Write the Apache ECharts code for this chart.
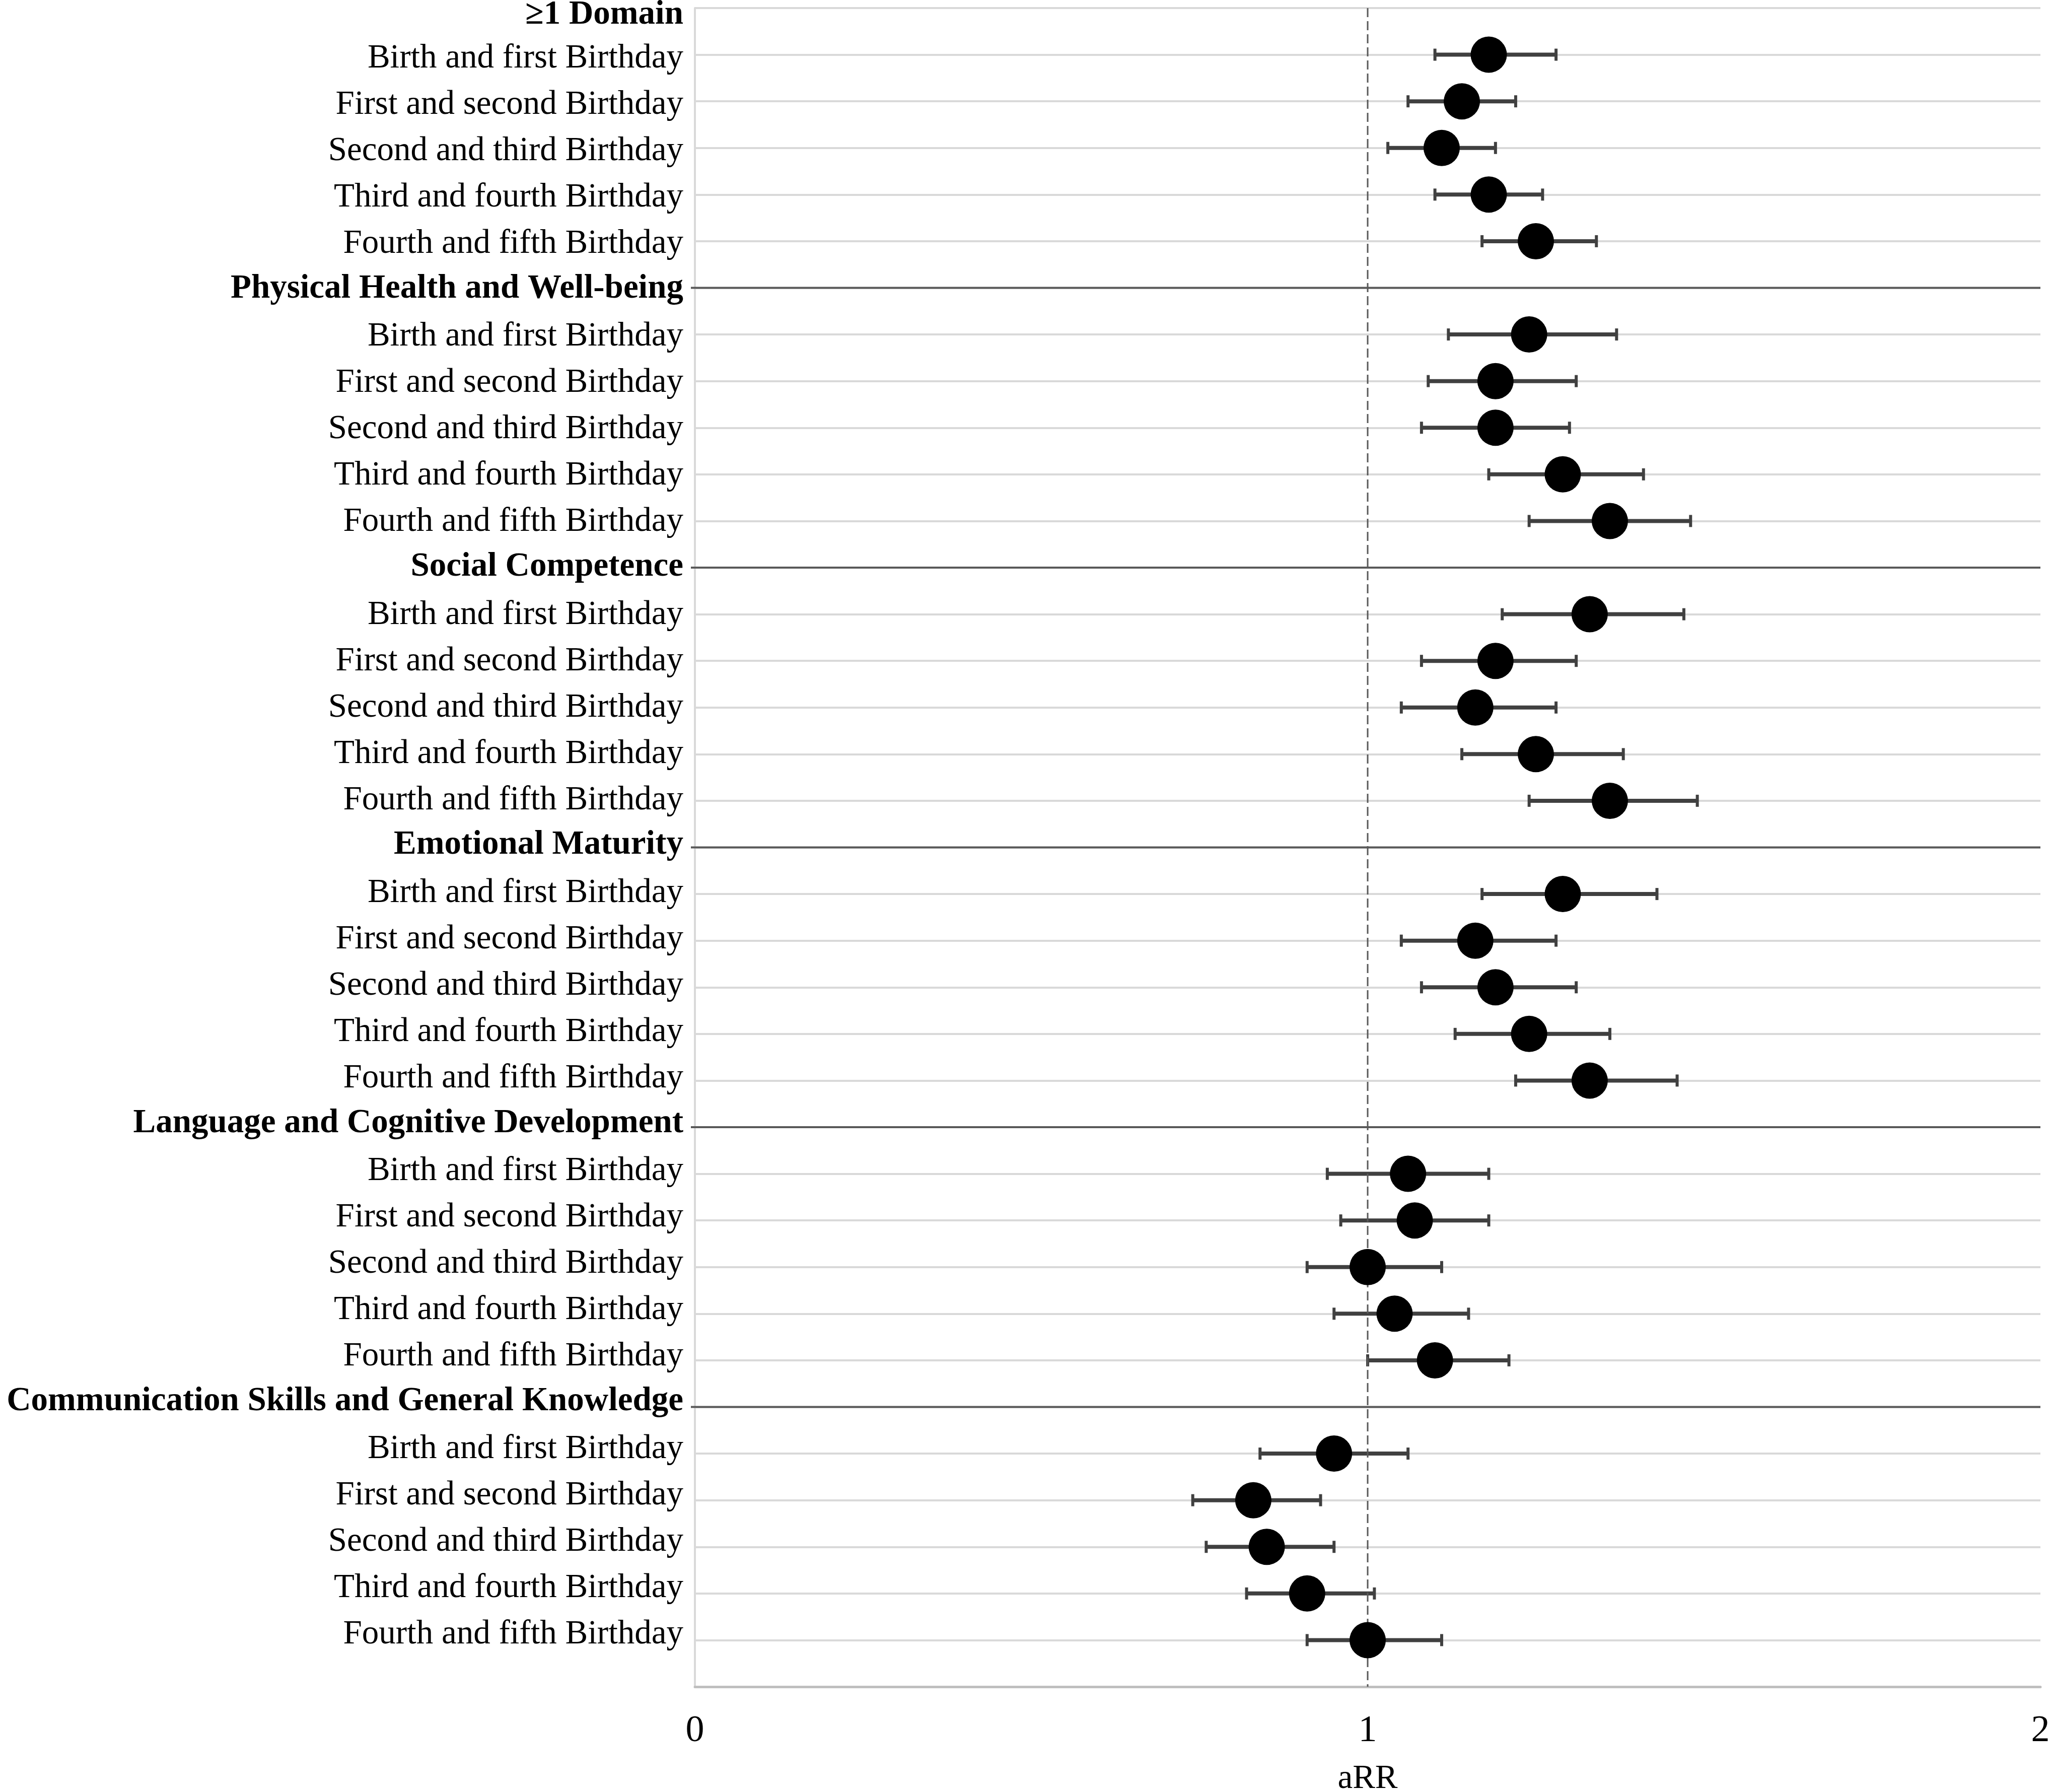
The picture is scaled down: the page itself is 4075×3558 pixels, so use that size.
<!DOCTYPE html>
<html>
<head>
<meta charset="utf-8">
<script src="https://cdn.jsdelivr.net/npm/echarts@6/dist/echarts.min.js"></script>
<style>
html,body{margin:0;padding:0;background:#fff;}
#chart{width:4075px;height:3558px;}
</style>
</head>
<body>
<div id="chart"></div>
<script>
// ---- data ----
const domains = [
  '≥1 Domain',
  'Physical Health and Well-being',
  'Social Competence',
  'Emotional Maturity',
  'Language and Cognitive Development',
  'Communication Skills and General Knowledge'
];
const periods = [
  'Birth and first Birthday',
  'First and second Birthday',
  'Second and third Birthday',
  'Third and fourth Birthday',
  'Fourth and fifth Birthday'
];
const aRR = [
  [1.18, 1.14, 1.11, 1.18, 1.25],
  [1.24, 1.19, 1.19, 1.29, 1.36],
  [1.33, 1.19, 1.16, 1.25, 1.36],
  [1.29, 1.16, 1.19, 1.24, 1.33],
  [1.06, 1.07, 1.00, 1.04, 1.10],
  [0.95, 0.83, 0.85, 0.91, 1.00]
];
const lowerCI = [
  [1.10, 1.06, 1.03, 1.10, 1.17],
  [1.12, 1.09, 1.08, 1.18, 1.24],
  [1.20, 1.08, 1.05, 1.14, 1.24],
  [1.17, 1.05, 1.08, 1.13, 1.22],
  [0.94, 0.96, 0.91, 0.95, 1.00],
  [0.84, 0.74, 0.76, 0.82, 0.91]
];
const upperCI = [
  [1.28, 1.22, 1.19, 1.26, 1.34],
  [1.37, 1.31, 1.30, 1.41, 1.48],
  [1.47, 1.31, 1.28, 1.38, 1.49],
  [1.43, 1.28, 1.31, 1.36, 1.46],
  [1.18, 1.18, 1.11, 1.15, 1.21],
  [1.06, 0.93, 0.95, 1.01, 1.11]
];
const xTickValues = [0, 1, 2];
const xAxisTitle = 'aRR';
const refValue = 1;

// ---- build rows ----
const rowLabels = [];
const headerRows = [];
const points = [];
domains.forEach((d, di) => {
  headerRows.push(rowLabels.length);
  rowLabels.push(d);
  periods.forEach((p, pi) => {
    const idx = rowLabels.length;
    rowLabels.push(p);
    points.push([aRR[di][pi], idx, lowerCI[di][pi], upperCI[di][pi]]);
  });
});
const nSlots = rowLabels.length; // 36 rows, axis runs 0..36

const FONT = '"Liberation Serif", "Times New Roman", Times, serif';
const chart = echarts.init(document.getElementById('chart'), null, {renderer: 'canvas'});

const option = {
  backgroundColor: '#ffffff',
  animation: false,
  grid: {left: 1380, right: 23, top: 16, bottom: 209, containLabel: false, outerBoundsMode: 'none'},
  xAxis: {
    type: 'value',
    min: xTickValues[0],
    max: xTickValues[xTickValues.length - 1],
    interval: 1,
    name: xAxisTitle,
    nameLocation: 'middle',
    nameGap: 150,
    nameMoveOverlap: false,
    nameTextStyle: {fontFamily: FONT, fontSize: 67, color: '#000'},
    axisLine: {show: true, onZero: false, lineStyle: {color: '#bfbfbf', width: 5}},
    axisTick: {show: false},
    splitLine: {show: false},
    axisLabel: {margin: 52, fontFamily: FONT, fontSize: 74, color: '#000',
      formatter: v => String(v)}
  },
  yAxis: {
    type: 'value',
    min: 0,
    max: nSlots,
    interval: 1,
    inverse: true,
    axisLine: {show: true, onZero: false, lineStyle: {color: '#d9d9d9', width: 4}},
    axisTick: {show: false},
    axisLabel: {show: false},
    splitLine: {show: true, lineStyle: {color: '#d9d9d9', width: 4}}
  },
  series: [
    {
      name: 'headerLines',
      type: 'custom',
      z: 1,
      clip: false,
      silent: true,
      data: headerRows.filter(i => i > 0).map(i => [0, i]),
      encode: {x: 0, y: 1},
      renderItem: function (params, api) {
        const a = api.coord([xTickValues[0], api.value(1)]);
        const b = api.coord([xTickValues[xTickValues.length - 1], api.value(1)]);
        return {type: 'line', shape: {x1: a[0] - 8, y1: a[1], x2: b[0], y2: b[1]},
          style: {stroke: '#595959', lineWidth: 4}};
      }
    },
    {
      name: 'rowLabels',
      type: 'custom',
      z: 5,
      clip: false,
      silent: true,
      data: rowLabels.map((t, i) => [0, i]),
      encode: {x: 0, y: 1},
      renderItem: function (params, api) {
        const idx = api.value(1);
        const p = api.coord([xTickValues[0], idx]);
        const isHeader = headerRows.indexOf(idx) >= 0;
        let dy = 8.5 - 0.55 * idx;
        if (idx === 0) dy = 14; else if (isHeader) dy -= 3;
        return {type: 'text', x: p[0] - 23, y: p[1] + dy,
          style: {text: rowLabels[idx], textAlign: 'right', textVerticalAlign: 'middle',
            fontFamily: FONT, fontSize: 67, fontWeight: isHeader ? 'bold' : 'normal', fill: '#000'}};
      }
    },
    {
      name: 'CI',
      type: 'custom',
      z: 2,
      clip: false,
      silent: true,
      data: points,
      encode: {x: [0, 2, 3], y: 1},
      renderItem: function (params, api) {
        const y = api.value(1);
        const lo = api.coord([api.value(2), y]);
        const hi = api.coord([api.value(3), y]);
        const capH = 12;
        const bar = {stroke: '#404040', lineWidth: 8};
        const cap = {stroke: '#404040', lineWidth: 6};
        return {type: 'group', children: [
          {type: 'line', shape: {x1: lo[0], y1: lo[1], x2: hi[0], y2: hi[1]}, style: bar},
          {type: 'line', shape: {x1: lo[0], y1: lo[1] - capH, x2: lo[0], y2: lo[1] + capH}, style: cap},
          {type: 'line', shape: {x1: hi[0], y1: hi[1] - capH, x2: hi[0], y2: hi[1] + capH}, style: cap}
        ]};
      }
    },
    {
      name: 'refLine',
      type: 'custom',
      z: 3,
      clip: false,
      silent: true,
      data: [[refValue, 0]],
      encode: {x: 0, y: 1},
      renderItem: function (params, api) {
        const a = api.coord([api.value(0), 0]);
        const b = api.coord([api.value(0), nSlots]);
        return {type: 'line', shape: {x1: a[0], y1: a[1], x2: b[0], y2: b[1]},
          style: {stroke: '#595959', lineWidth: 3, lineDash: [18, 8]}};
      }
    },
    {
      name: 'aRR',
      type: 'scatter',
      z: 4,
      symbol: 'circle',
      symbolSize: 72,
      itemStyle: {color: '#000000', opacity: 1},
      emphasis: {disabled: true},
      data: points.map(p => [p[0], p[1]])
    }
  ]
};
chart.setOption(option);
</script>
</body>
</html>
